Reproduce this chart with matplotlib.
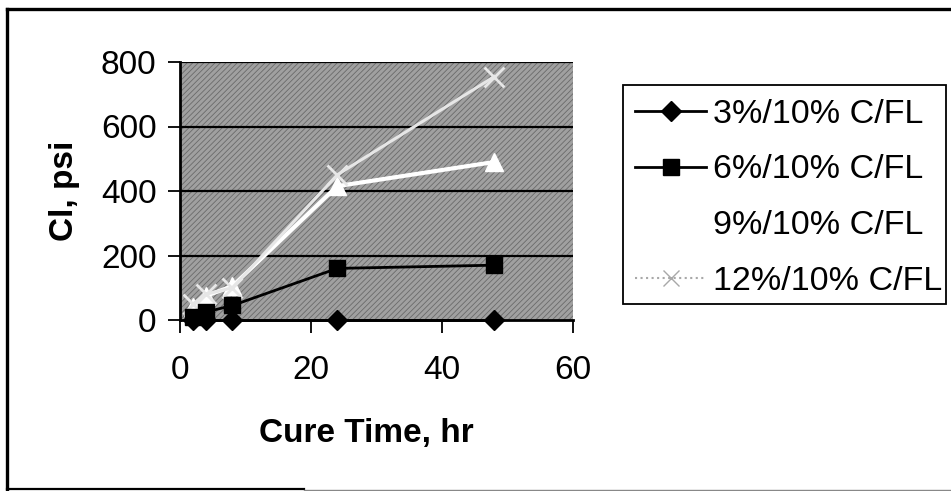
import matplotlib
matplotlib.use("Agg")
import matplotlib.pyplot as plt
from matplotlib.patches import Rectangle
from matplotlib.lines import Line2D

# --- data ---
cure_hr = [2, 4, 8, 24, 48]
ci_3 = [0, 0, 0, 0, 0]
ci_6 = [8, 25, 45, 160, 170]
ci_9 = [40, 75, 105, 415, 490]
ci_12 = [50, 80, 100, 450, 755]
labels = ["3%/10% C/FL", "6%/10% C/FL", "9%/10% C/FL", "12%/10% C/FL"]
x_ticks = [0, 20, 40, 60]
y_ticks = [0, 200, 400, 600, 800]

W, H = 951, 491
plt.rcParams["font.family"] = ["Liberation Sans", "DejaVu Sans"]
plt.rcParams["hatch.linewidth"] = 0.6

fig = plt.figure(figsize=(W / 100, H / 100), dpi=100, facecolor="white")
ax = fig.add_axes([180 / W, 1 - 320 / H, (573 - 180) / W, (320 - 62) / H])

# dithered grey plot area
ax.set_facecolor("#a0a0a0")
ax.add_patch(Rectangle((0, 0), 1, 1, transform=ax.transAxes, facecolor="#a0a0a0",
                       edgecolor="#6a6a6a", hatch="//////", lw=0, zorder=0))

for yv in y_ticks[1:]:
    ax.axhline(yv, color="black", lw=1.6, zorder=1)

ax.plot(cure_hr, ci_3, color="black", lw=2, marker="D", ms=10, zorder=5,
        clip_on=False, label=labels[0])
ax.plot(cure_hr, ci_6, color="black", lw=2, marker="s", ms=12, zorder=4,
        clip_on=False, label=labels[1])
ax.plot(cure_hr, ci_9, color="white", lw=3, marker="^", ms=13, zorder=3,
        label=labels[2])
ax.plot(cure_hr, ci_12, color="#e6e6e6", lw=2.2, marker="x", ms=14, mew=2,
        zorder=3, label=labels[3])

ax.set_xlim(0, 60)
ax.set_ylim(0, 800)
ax.set_xticks(x_ticks)
ax.set_yticks(y_ticks)
ax.tick_params(labelsize=24, length=9, width=1.3, direction="out", pad=8)
ax.tick_params(axis="x", pad=16)
for side in ["top", "right"]:
    ax.spines[side].set_visible(False)
for side in ["left", "bottom"]:
    ax.spines[side].set_linewidth(2)

ax.set_xlabel("Cure Time, hr", fontsize=24, fontweight="bold")
ax.xaxis.set_label_coords((366 - 180) / (573 - 180), -(442 - 320) / (320 - 62))
ax.xaxis.label.set_va("baseline")
ax.set_ylabel("Cl, psi", fontsize=24, fontweight="bold")
ax.yaxis.set_label_coords(-(180 - 64) / (573 - 180), 0.5)
ax.yaxis.label.set_va("center")

# legend (9% entry is white on white in the original)
handles = [
    Line2D([], [], color="black", lw=2, marker="D", ms=10),
    Line2D([], [], color="black", lw=2, marker="s", ms=12),
    Line2D([], [], color="white", lw=2, marker="^", ms=12),
    Line2D([], [], color="#a8a8a8", lw=1.5, ls=":", marker="x", ms=12, mew=1),
]
fig.legend(handles, labels, loc="upper left",
           bbox_to_anchor=(635 / W, 1 - 99 / H), fontsize=24.5,
           frameon=False, borderaxespad=0, borderpad=0, handlelength=2.1,
           handletextpad=0.2, labelspacing=0.72)
fig.add_artist(Rectangle((623 / W, 1 - 304 / H), (946 - 623) / W, (304 - 85) / H,
                         transform=fig.transFigure, fill=False,
                         edgecolor="black", lw=1.3))

# scanned outer frame
fig.add_artist(Line2D([7 / W, 1], [1 - 9 / H, 1 - 9 / H], color="black", lw=2.4))
fig.add_artist(Line2D([7 / W, 7 / W], [1 - 9 / H, 1 - 489 / H], color="black", lw=2.4))
fig.add_artist(Line2D([7 / W, 0.32], [1 - 489 / H, 1 - 489 / H], color="black", lw=1.6))
fig.add_artist(Line2D([0.32, 1], [1 - 489.5 / H, 1 - 489.5 / H], color="#888888", lw=1))

fig.savefig("out.png", dpi=100, facecolor="white")
